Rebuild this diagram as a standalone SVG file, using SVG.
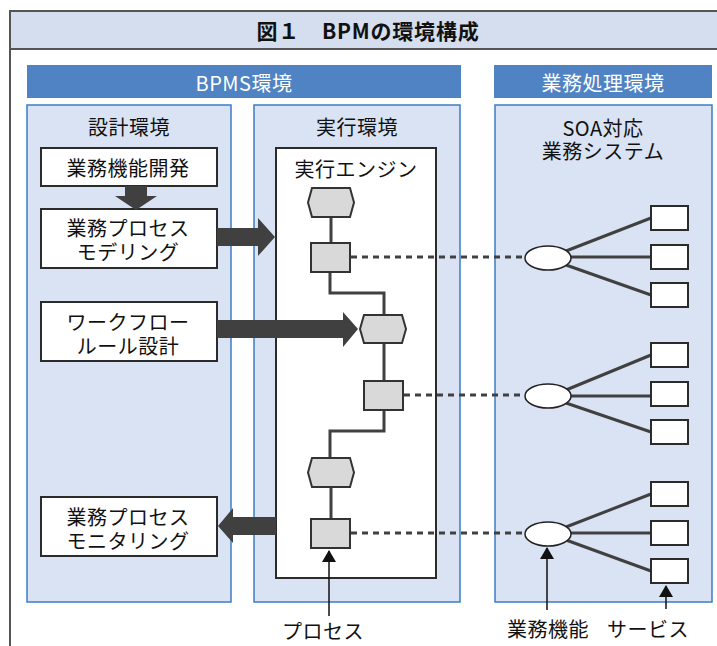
<svg xmlns="http://www.w3.org/2000/svg" width="717" height="646" viewBox="0 0 717 646">
<style>
text{font-family:"Noto Sans CJK JP","Noto Sans",sans-serif;font-size:20px;fill:#111111;text-anchor:middle;dominant-baseline:central;letter-spacing:0.5px}
.w{fill:#ffffff}
.panel{fill:#dae3f3;stroke:#3b7dc4;stroke-width:1.5}
.bar{fill:#4f83c3}
.box{fill:#ffffff;stroke:#2b2b2b;stroke-width:2}
.gray{fill:#d9d9d9;stroke:#333333;stroke-width:2}
.link{fill:none;stroke:#404040;stroke-width:3}
.dash{fill:none;stroke:#404040;stroke-width:3;stroke-dasharray:6,5}
.ell{fill:#ffffff;stroke:#222222;stroke-width:1.5}
.fat{fill:#404040}
.ptr{fill:none;stroke:#111111;stroke-width:1.5}
</style>
<defs>
<marker id="tri" viewBox="0 0 12 14" refX="11" refY="7" markerWidth="12" markerHeight="14" markerUnits="userSpaceOnUse" orient="auto">
<path d="M0,0 L12,7 L0,14 Z" fill="#111111"/>
</marker>
</defs>
<rect x="0" y="0" width="717" height="646" fill="#ffffff"/>
<g id="frame">
<rect x="10" y="11" width="720" height="660" fill="#ffffff" stroke="#555555" stroke-width="2"/>
<rect x="10" y="11" width="720" height="38" fill="#d5deee" stroke="#555555" stroke-width="2"/>
<text x="368" y="30" style="font-size:21px;font-weight:bold;letter-spacing:0.8px">図１　BPMの環境構成</text>
</g>
<g id="bpms-bar">
<rect class="bar" x="27" y="65" width="434" height="33"/>
<text class="w" x="244" y="82">BPMS環境</text>
</g>
<g id="biz-bar">
<rect class="bar" x="494" y="65" width="218" height="33"/>
<text class="w" x="603" y="82">業務処理環境</text>
</g>
<g id="design-panel">
<rect class="panel" x="27" y="105" width="204" height="497"/>
<text x="129" y="126">設計環境</text>
</g>
<g id="exec-panel">
<rect class="panel" x="254" y="105" width="206" height="497"/>
<text x="357" y="126">実行環境</text>
</g>
<g id="biz-panel">
<rect class="panel" x="495" y="105" width="217" height="497"/>
<text x="603" y="127">SOA対応</text>
<text x="603" y="150">業務システム</text>
</g>
<g id="engine">
<rect class="box" x="276" y="148" width="160" height="430"/>
<text x="356" y="168">実行エンジン</text>
</g>
<g id="n-dev">
<rect class="box" x="41" y="148" width="176" height="38"/>
<text x="128" y="167">業務機能開発</text>
</g>
<g id="n-model">
<rect class="box" x="41" y="209" width="176" height="59"/>
<text x="128" y="227">業務プロセス</text>
<text x="128" y="251">モデリング</text>
</g>
<g id="n-rule">
<rect class="box" x="41" y="302" width="176" height="59"/>
<text x="128" y="321">ワークフロー</text>
<text x="128" y="345">ルール設計</text>
</g>
<g id="n-monitor">
<rect class="box" x="41" y="497" width="176" height="59"/>
<text x="128" y="516">業務プロセス</text>
<text x="128" y="540">モニタリング</text>
</g>
<g id="connectors">
<path class="fat" d="M125,186 H147 V196 H157 L136,210 L115,196 H125 Z"/>
<path class="fat" d="M217,228 H258 V218 L275,237 L258,256 V246 H217 Z"/>
<path class="fat" d="M217,320 H343 V312 L358,329 L343,347 V338 H217 Z"/>
<path class="fat" d="M276,517 H233 V508 L218,526 L233,543 V535 H276 Z"/>
<path class="link" d="M331,217 V243"/>
<path class="link" d="M330,272 V293 H384 V315"/>
<path class="link" d="M384,343 V381"/>
<path class="link" d="M384,410 V431 H330 V458"/>
<path class="link" d="M331,487 V519"/>
<path class="dash" d="M351,257 H525"/>
<path class="dash" d="M404,395 H525"/>
<path class="dash" d="M351,533 H525"/>
<path class="link" d="M566,251 L651,218 M571,257 H651 M566,265 L651,295"/>
<path class="link" d="M566,390 L651,355 M571,396 H651 M566,403 L651,432"/>
<path class="link" d="M566,527 L651,494 M571,533 H651 M566,540 L651,571"/>
<path class="ptr" d="M329,616 V551" marker-end="url(#tri)"/>
<path class="ptr" d="M547,610 V548" marker-end="url(#tri)"/>
<path class="ptr" d="M666,609 V586" marker-end="url(#tri)"/>
</g>
<g id="p1"><path class="gray" d="M312,188 H350 L354,202.5 L350,217 H312 L308,202.5 Z"/></g>
<g id="p2"><rect class="gray" x="311" y="243" width="39" height="29"/></g>
<g id="p3"><path class="gray" d="M364,315 H402 L406,329 L402,343 H364 L360,329 Z"/></g>
<g id="p4"><rect class="gray" x="364" y="381" width="39" height="29"/></g>
<g id="p5"><path class="gray" d="M312,458 H350 L354,472.5 L350,487 H312 L308,472.5 Z"/></g>
<g id="p6"><rect class="gray" x="311" y="519" width="39" height="29"/></g>
<g id="f1"><ellipse class="ell" cx="548" cy="258" rx="23" ry="12"/></g>
<g id="f2"><ellipse class="ell" cx="548" cy="396" rx="23" ry="12"/></g>
<g id="f3"><ellipse class="ell" cx="548" cy="534" rx="23" ry="12"/></g>
<g id="s1"><rect class="box" x="651" y="206" width="37" height="24"/></g>
<g id="s2"><rect class="box" x="651" y="245" width="37" height="24"/></g>
<g id="s3"><rect class="box" x="651" y="283" width="37" height="24"/></g>
<g id="s4"><rect class="box" x="651" y="343" width="37" height="24"/></g>
<g id="s5"><rect class="box" x="651" y="382" width="37" height="24"/></g>
<g id="s6"><rect class="box" x="651" y="420" width="37" height="24"/></g>
<g id="s7"><rect class="box" x="651" y="482" width="37" height="24"/></g>
<g id="s8"><rect class="box" x="651" y="521" width="37" height="24"/></g>
<g id="s9"><rect class="box" x="651" y="559" width="37" height="24"/></g>
<g id="labels">
<text x="323" y="630">プロセス</text>
<text x="548" y="628">業務機能</text>
<text x="648" y="628">サービス</text>
</g>
</svg>
